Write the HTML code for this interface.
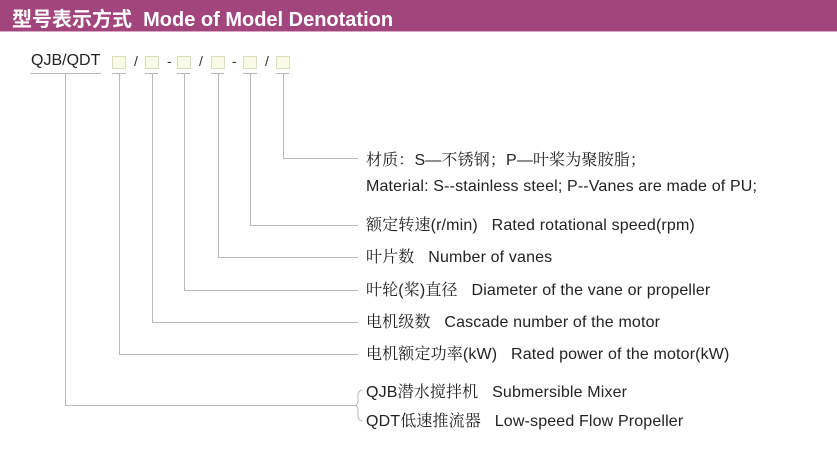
<!DOCTYPE html>
<html><head><meta charset="utf-8"><style>
body{margin:0;width:837px;height:473px;background:#fff;position:relative;overflow:hidden;font-family:"Liberation Sans","Noto Serif CJK SC",sans-serif;color:#222}
.hd{position:absolute;left:0;top:0;width:837px;height:31px;background:#a2457c;border-bottom:1px solid #d8a8c4}
.hd span{position:absolute;left:12px;top:3px;font-size:20px;font-weight:bold;color:#fff;font-family:"Liberation Sans","Noto Sans CJK SC",sans-serif}
.t{position:absolute;font-size:16px;letter-spacing:0.15px;white-space:nowrap;line-height:18px}
.b{position:absolute;width:12px;height:11px;background:#fafae8;border:1px solid #d9dfb8;top:56px}
.s{position:absolute;top:53px;font-size:14px;color:#333}
</style></head><body>
<div class="hd"><span>型号表示方式&nbsp; Mode of Model Denotation</span></div>
<div class="t" style="left:31px;top:52px;letter-spacing:0">QJB/QDT</div>
<div class="b" style="left:112px"></div>
<div class="s" style="left:134px">/</div>
<div class="b" style="left:145px"></div>
<div class="s" style="left:167px">-</div>
<div class="b" style="left:177px"></div>
<div class="s" style="left:199px">/</div>
<div class="b" style="left:211px"></div>
<div class="s" style="left:232px">-</div>
<div class="b" style="left:243px"></div>
<div class="s" style="left:265px">/</div>
<div class="b" style="left:276px"></div>
<svg width="837" height="473" style="position:absolute;left:0;top:0" fill="none" stroke="#b8b8b8" stroke-width="1">
<path d="M30.5 73.5H101M112 73.5H126M145 73.5H158M177 73.5H190M211 73.5H224M243 73.5H257M276 73.5H289"/>
<path d="M65.5 73V405.5H357"/>
<path d="M119.5 73V354.5H358"/>
<path d="M152.5 73V322.5H358"/>
<path d="M184.5 73V290.5H358"/>
<path d="M218.5 73V257.5H358"/>
<path d="M250.5 73V225.5H358"/>
<path d="M283.5 73V158.5H358"/>
<path d="M362 390Q358 391 358 395V401Q358 405 355 405.5Q358 406 358 410V416Q358 420 362 421"/>
</svg>
<div class="t" style="left:366px;top:152px">材质：S—不锈钢；P—叶桨为聚胺脂；</div>
<div class="t" style="left:366px;top:178px">Material: S--stainless steel; P--Vanes are made of PU;</div>
<div class="t" style="left:366px;top:217px">额定转速(r/min)&nbsp;&nbsp; Rated rotational speed(rpm)</div>
<div class="t" style="left:366px;top:249px">叶片数&nbsp;&nbsp; Number of vanes</div>
<div class="t" style="left:366px;top:282px">叶轮(桨)直径&nbsp;&nbsp; Diameter of the vane or propeller</div>
<div class="t" style="left:366px;top:314px">电机级数&nbsp;&nbsp; Cascade number of the motor</div>
<div class="t" style="left:366px;top:346px">电机额定功率(kW)&nbsp;&nbsp; Rated power of the motor(kW)</div>
<div class="t" style="left:366px;top:384px">QJB潜水搅拌机&nbsp;&nbsp; Submersible Mixer</div>
<div class="t" style="left:366px;top:413px">QDT低速推流器&nbsp;&nbsp; Low-speed Flow Propeller</div>
</body></html>
